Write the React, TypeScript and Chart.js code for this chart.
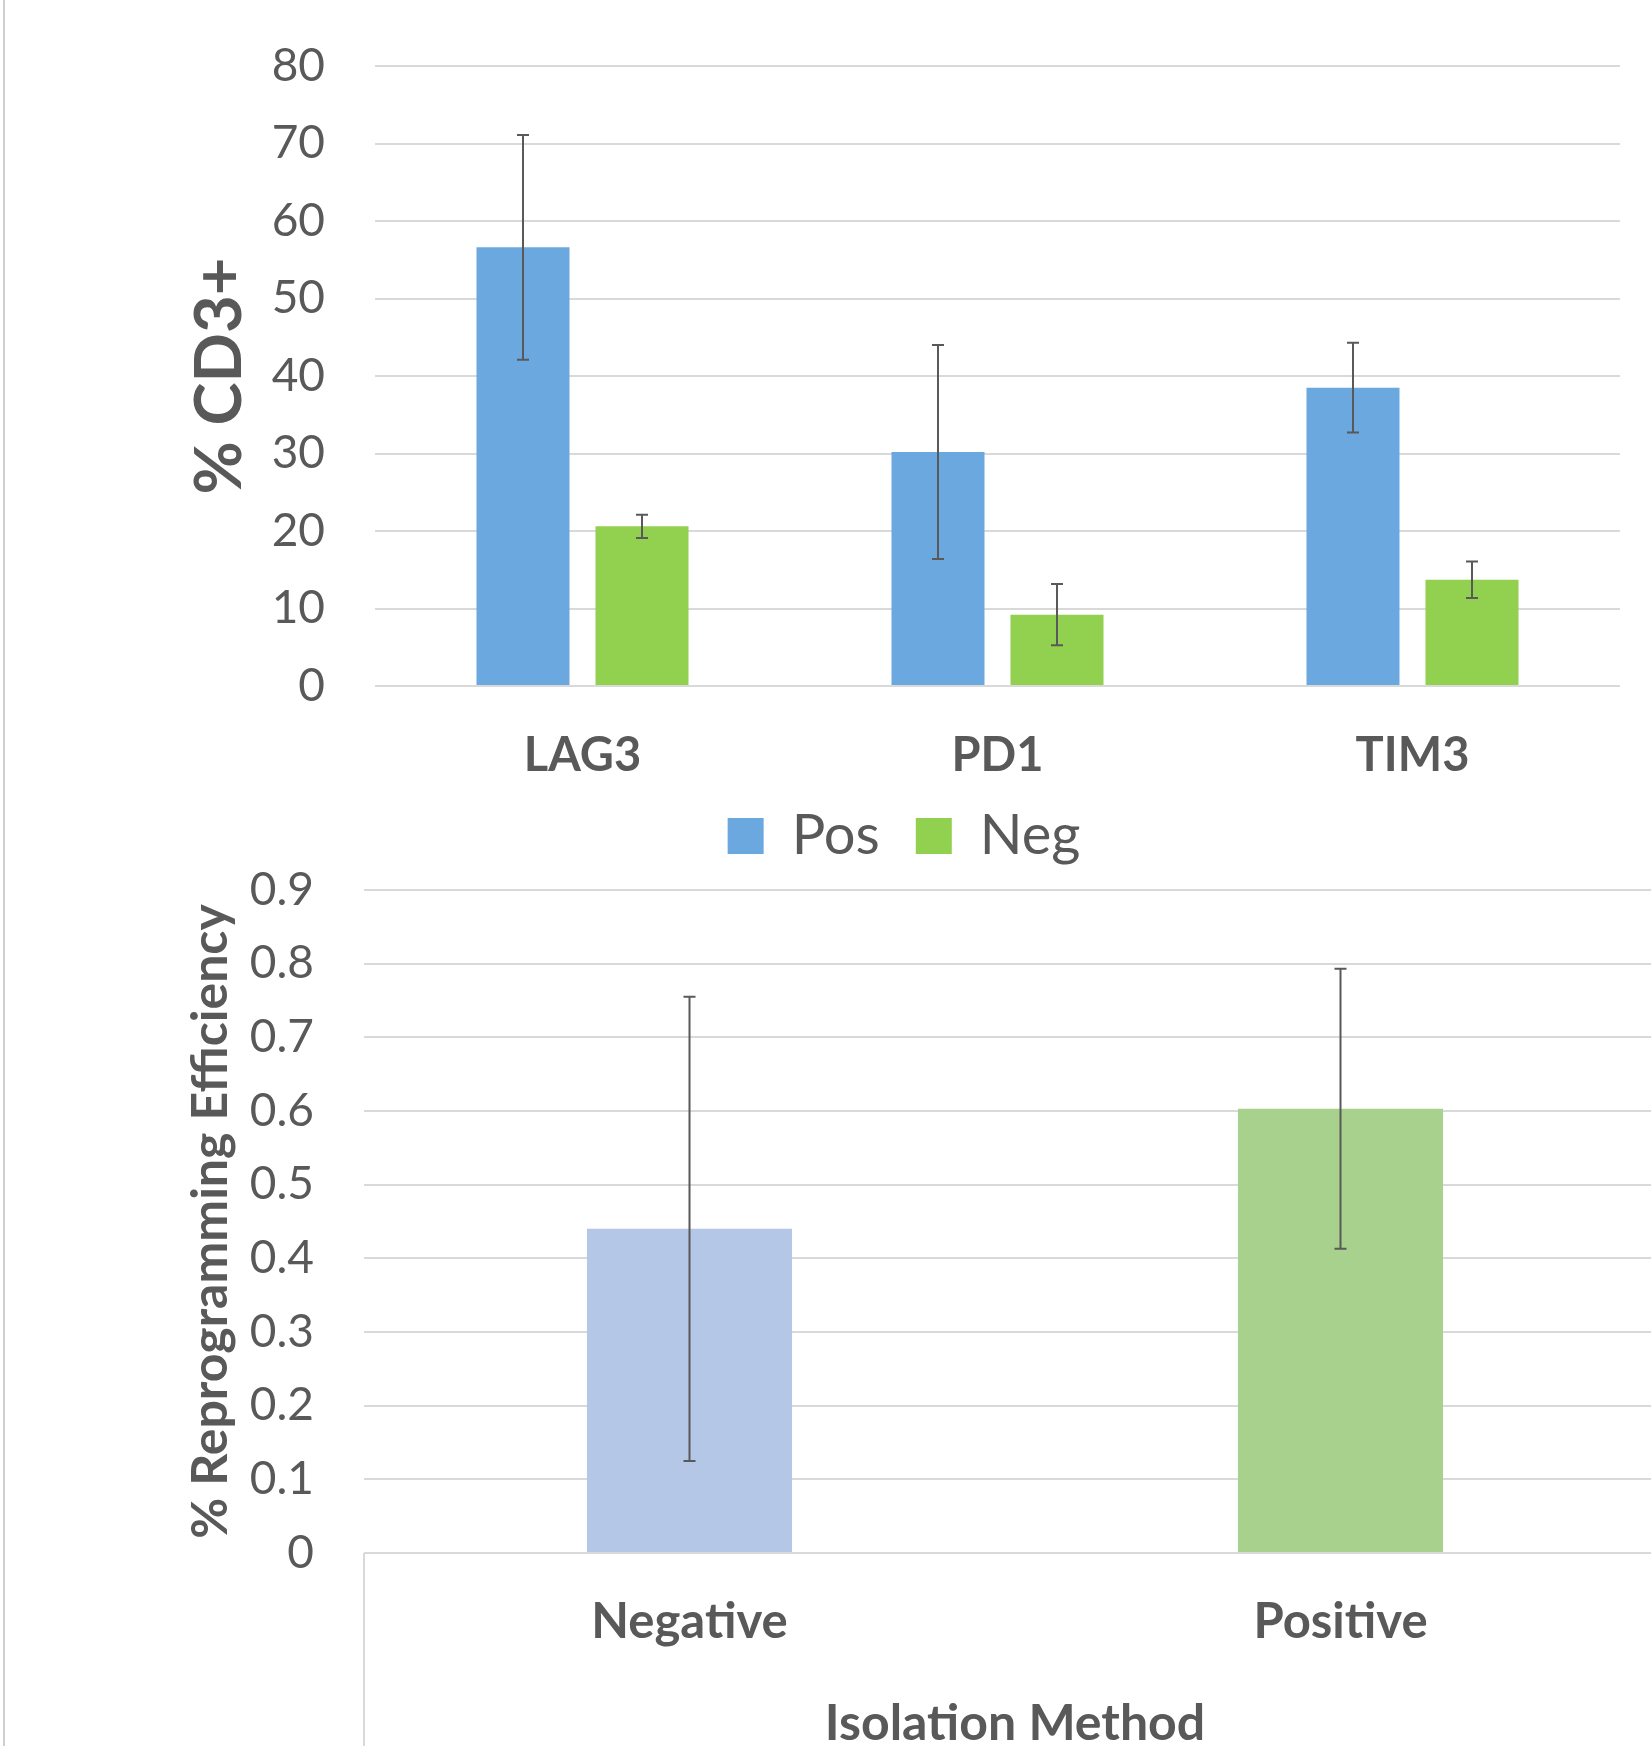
import React, { useEffect, useRef } from "react";
import { Chart, registerables } from "chart.js";

Chart.register(...registerables);

// ---------- Top chart data ----------
const markers = ["LAG3", "PD1", "TIM3"];
const seriesNames = ["Pos", "Neg"];
const posValues = [56.6, 30.2, 38.5];
const posErrors = [14.5, 13.8, 5.8];
const negValues = [20.6, 9.2, 13.7];
const negErrors = [1.5, 3.95, 2.35];
const topTicks = [0, 10, 20, 30, 40, 50, 60, 70, 80];

// ---------- Bottom chart data ----------
const methods = ["Negative", "Positive"];
const efficiencyValues = [0.44, 0.603];
const efficiencyErrors = [0.315, 0.19];
const bottomTicks = [0, 0.1, 0.2, 0.3, 0.4, 0.5, 0.6, 0.7, 0.8, 0.9];

const TEXT = "#595959";
const GRID = "#D9D9D9";
const FONT = "Lato, 'Noto Sans', sans-serif";

function errorBarPlugin(errors: number[][]) {
  return {
    id: "errorBars",
    afterDatasetsDraw(chart: any) {
      const ctx = chart.ctx;
      const y = chart.scales.y;
      chart.data.datasets.forEach((ds: any, di: number) => {
        const meta = chart.getDatasetMeta(di);
        meta.data.forEach((bar: any, i: number) => {
          const v = ds.data[i];
          const e = errors[di][i];
          const x = bar.x;
          const yt = y.getPixelForValue(v + e);
          const yb = y.getPixelForValue(v - e);
          ctx.save();
          ctx.strokeStyle = TEXT;
          ctx.lineWidth = 2;
          ctx.beginPath();
          ctx.moveTo(x, yt);
          ctx.lineTo(x, yb);
          ctx.moveTo(x - 6, yt);
          ctx.lineTo(x + 6, yt);
          ctx.moveTo(x - 6, yb);
          ctx.lineTo(x + 6, yb);
          ctx.stroke();
          ctx.restore();
        });
      });
    },
  };
}

const leftAxisLinePlugin = {
  id: "leftAxisLine",
  afterDraw(chart: any) {
    const { ctx, chartArea } = chart;
    ctx.save();
    ctx.strokeStyle = GRID;
    ctx.lineWidth = 2;
    ctx.beginPath();
    ctx.moveTo(chartArea.left, chartArea.bottom);
    ctx.lineTo(chartArea.left, chart.height);
    ctx.stroke();
    ctx.restore();
  },
};

function fmt(v: number) {
  return String(Math.round(v * 10) / 10);
}

function TopChart() {
  const ref = useRef<HTMLCanvasElement | null>(null);
  useEffect(() => {
    if (!ref.current) return;
    const chart = new Chart(ref.current, {
      type: "bar",
      data: {
        labels: markers,
        datasets: [
          {
            label: seriesNames[0],
            data: posValues,
            backgroundColor: "#6CA8E0",
            categoryPercentage: 0.5735,
            barPercentage: 0.7815,
          },
          {
            label: seriesNames[1],
            data: negValues,
            backgroundColor: "#92D050",
            categoryPercentage: 0.5735,
            barPercentage: 0.7815,
          },
        ],
      },
      options: {
        responsive: false,
        animation: false,
        devicePixelRatio: 1,
        layout: { padding: { top: 66, right: 31, left: 188, bottom: 0 } },
        plugins: {
          tooltip: { enabled: false },
          legend: {
            position: "bottom",
            labels: {
              color: TEXT,
              font: { family: FONT, size: 56 },
              boxWidth: 36,
              boxHeight: 36,
              padding: 36,
            },
          },
        },
        scales: {
          x: {
            grid: { display: false, drawTicks: false },
            border: { display: false },
            ticks: {
              color: TEXT,
              padding: 53,
              font: { family: FONT, size: 47, weight: "bold", lineHeight: 0.7 },
            },
            afterFit: (s: any) => {
              s.height = 86;
            },
          },
          y: {
            min: topTicks[0],
            max: topTicks[topTicks.length - 1],
            afterBuildTicks: (s: any) => {
              s.ticks = topTicks.map((v) => ({ value: v }));
            },
            grid: {
              color: GRID,
              lineWidth: 2,
              drawTicks: true,
              tickLength: 50,
              tickColor: "rgba(0,0,0,0)",
            },
            border: { display: false },
            ticks: {
              color: TEXT,
              padding: 0,
              font: { family: FONT, size: 46, lineHeight: 1 },
              callback: (v: any) => fmt(Number(v)),
            },
            title: {
              display: true,
              text: "% CD3+",
              color: TEXT,
              font: { family: FONT, size: 65, weight: "bold", lineHeight: 1 },
              padding: { top: 0, bottom: 0 },
            },
            afterFit: (s: any) => {
              s.width = 187;
            },
          },
        },
      },
      plugins: [errorBarPlugin([posErrors, negErrors])],
    } as any);
    return () => chart.destroy();
  }, []);
  return (
    <canvas
      ref={ref}
      width={1651}
      height={874}
      style={{ position: "absolute", left: 0, top: 0, width: 1651, height: 874 }}
    />
  );
}

function BottomChart() {
  const ref = useRef<HTMLCanvasElement | null>(null);
  useEffect(() => {
    if (!ref.current) return;
    const chart = new Chart(ref.current, {
      type: "bar",
      data: {
        labels: methods,
        datasets: [
          {
            label: "% Reprogramming Efficiency",
            data: efficiencyValues,
            backgroundColor: ["#B4C7E7", "#A9D18E"],
            categoryPercentage: 0.5,
            barPercentage: 0.63,
          },
        ],
      },
      options: {
        responsive: false,
        animation: false,
        devicePixelRatio: 1,
        layout: { padding: { top: 25, right: 14, left: 0, bottom: 0 } },
        plugins: {
          tooltip: { enabled: false },
          legend: { display: false },
        },
        scales: {
          x: {
            grid: { display: false, drawTicks: false },
            border: { display: false },
            ticks: {
              color: TEXT,
              padding: 40,
              font: { family: FONT, size: 49, weight: "bold", lineHeight: 1.2 },
            },
            title: {
              display: true,
              text: "Isolation Method",
              color: TEXT,
              font: { family: FONT, size: 50, weight: "bold", lineHeight: 1 },
              padding: { top: 0, bottom: -3 },
            },
            afterFit: (s: any) => {
              s.height = 193;
            },
          },
          y: {
            min: bottomTicks[0],
            max: bottomTicks[bottomTicks.length - 1],
            afterBuildTicks: (s: any) => {
              s.ticks = bottomTicks.map((v) => ({ value: v }));
            },
            grid: {
              color: GRID,
              lineWidth: 2,
              drawTicks: true,
              tickLength: 50,
              tickColor: "rgba(0,0,0,0)",
            },
            border: { display: false },
            ticks: {
              color: TEXT,
              padding: 0,
              font: { family: FONT, size: 46, lineHeight: 1 },
              callback: (v: any) => fmt(Number(v)),
            },
            title: {
              display: true,
              text: "% Reprogramming Efficiency",
              color: TEXT,
              font: { family: FONT, size: 50, weight: "bold", lineHeight: 1 },
              padding: { top: 186, bottom: 0 },
            },
            afterFit: (s: any) => {
              s.width = 364;
            },
          },
        },
      },
      plugins: [errorBarPlugin([efficiencyErrors]), leftAxisLinePlugin],
    } as any);
    return () => chart.destroy();
  }, []);
  return (
    <canvas
      ref={ref}
      width={1680}
      height={881}
      style={{ position: "absolute", left: 0, top: 865, width: 1680, height: 881 }}
    />
  );
}

export default function App() {
  return (
    <div
      style={{
        position: "absolute",
        left: 0,
        top: 0,
        width: 1651,
        height: 1746,
        overflow: "hidden",
        background: "#FFFFFF",
      }}
    >
      <BottomChart />
      <TopChart />
      <div
        style={{
          position: "absolute",
          left: 3,
          top: 0,
          width: 2,
          height: 1746,
          background: "#D0D0D0",
        }}
      />
    </div>
  );
}
